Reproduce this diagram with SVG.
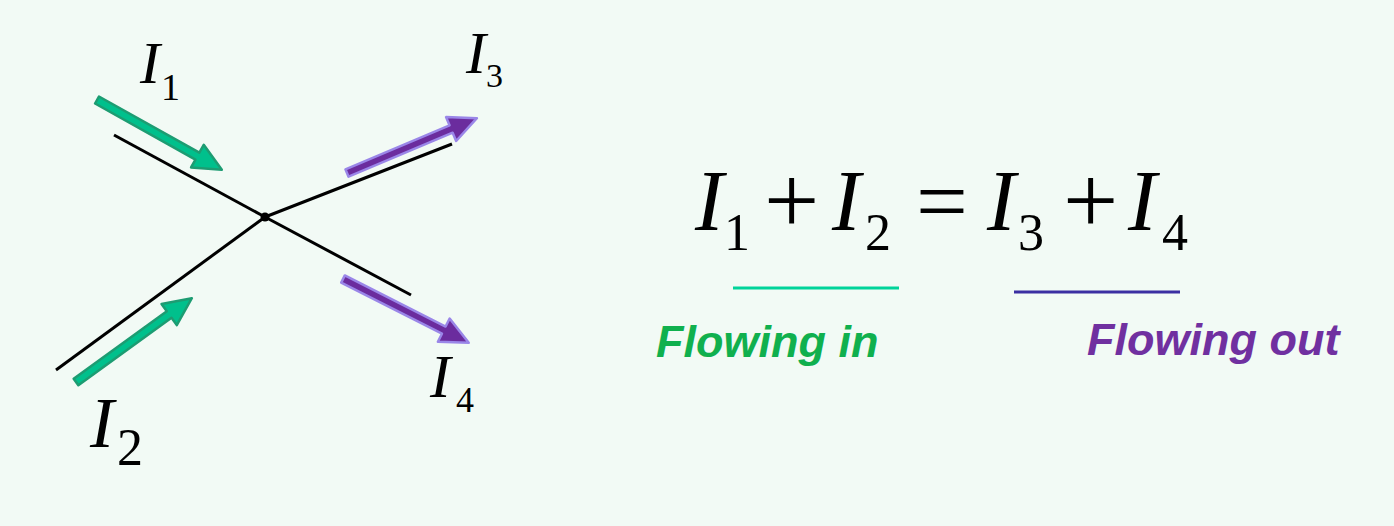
<svg xmlns="http://www.w3.org/2000/svg" width="1394" height="526" viewBox="0 0 1394 526">
<style>
.wire{stroke:#000;stroke-width:3;fill:none;stroke-linecap:butt}
.ain{fill:#00c08c;stroke:#1d9c72;stroke-width:2.5;stroke-linejoin:round}
.aout{fill:#6b2c9e;stroke:#9a86e8;stroke-width:2.5;stroke-linejoin:round}
.vi{font-family:"Liberation Serif","Times New Roman",serif;font-style:italic;fill:#000}
.vn{font-family:"Liberation Serif","Times New Roman",serif;fill:#000}
.lbl{font-family:"Liberation Sans",Arial,sans-serif;font-weight:bold;font-style:italic;font-size:45px}
</style>
<rect width="1394" height="526" fill="#f2faf5"/>
<g id="wires">
<line class="wire" x1="114" y1="135" x2="265" y2="217"/>
<line class="wire" x1="56" y1="370" x2="265" y2="217"/>
<line class="wire" x1="265" y1="217" x2="452" y2="144"/>
<line class="wire" x1="265" y1="217" x2="411" y2="295"/>
</g>
<g id="junction"><circle cx="265" cy="217" r="4.5" fill="#000"/></g>
<g id="connectors">
<polygon class="ain" transform="translate(97,100) rotate(29.2)" points="0,-4 115,-4 115,-13 143,0 115,13 115,4 0,4"/>
<polygon class="ain" transform="translate(76,382) rotate(-35.9)" points="0,-4 115,-4 115,-13 143,0 115,13 115,4 0,4"/>
<polygon class="aout" transform="translate(347,173) rotate(-22.9)" points="0,-4 113,-4 113,-13 141,0 113,13 113,4 0,4"/>
<polygon class="aout" transform="translate(343,279) rotate(26.9)" points="0,-4 113,-4 113,-13 141,0 113,13 113,4 0,4"/>
</g>
<g id="label-I1"><text class="vi" x="140" y="83" font-size="60">I</text><text class="vn" x="161" y="100" font-size="38">1</text></g>
<g id="label-I2"><text class="vi" x="90" y="447" font-size="72">I</text><text class="vn" x="117" y="465" font-size="52">2</text></g>
<g id="label-I3"><text class="vi" x="466" y="73" font-size="60">I</text><text class="vn" x="486" y="87" font-size="34">3</text></g>
<g id="label-I4"><text class="vi" x="430" y="397" font-size="62">I</text><text class="vn" x="456" y="412" font-size="36">4</text></g>
<g id="equation">
<text class="vi" x="695" y="230" font-size="86">I</text><text class="vn" x="724" y="250" font-size="52">1</text>
<text class="vn" x="764" y="233" font-size="98">+</text>
<text class="vi" x="832" y="230" font-size="86">I</text><text class="vn" x="865" y="250" font-size="52">2</text>
<text class="vn" x="916" y="232" font-size="92">=</text>
<text class="vi" x="987" y="230" font-size="86">I</text><text class="vn" x="1018" y="250" font-size="52">3</text>
<text class="vn" x="1063" y="233" font-size="98">+</text>
<text class="vi" x="1128" y="230" font-size="86">I</text><text class="vn" x="1162" y="250" font-size="52">4</text>
</g>
<g id="flowing-in">
<line x1="733" y1="288" x2="899" y2="288" stroke="#00d39a" stroke-width="3"/>
<text class="lbl" x="656" y="357" fill="#10b04e">Flowing in</text>
</g>
<g id="flowing-out">
<line x1="1014" y1="292" x2="1180" y2="292" stroke="#3b2fa2" stroke-width="3"/>
<text class="lbl" x="1087" y="355" fill="#7030a0">Flowing out</text>
</g>
</svg>
